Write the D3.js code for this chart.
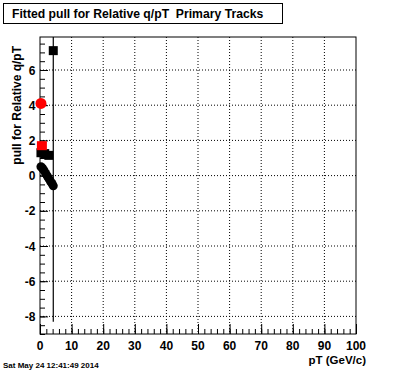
<!DOCTYPE html>
<html>
<head>
<meta charset="utf-8">
<script src="https://cdn.jsdelivr.net/npm/d3@7/dist/d3.min.js"></script>
<style>
  body { margin: 0; background: #fff; }
  text { font-family: "Liberation Sans", Arial, Helvetica, sans-serif; font-weight: bold; }
</style>
</head>
<body>
<div id="chart"></div>
<script>
// black circles (pull per pT bin)
var circPt  = [0.3, 0.8, 1.3, 1.8, 2.3, 2.8, 3.3, 3.8, 4.2];
var circVal = [0.5, 0.42, 0.28, 0.12, -0.02, -0.17, -0.32, -0.45, -0.58];

// black squares, last one has a huge error
var sqPt  = [0.3, 1.5, 2.8, 4.2];
var sqVal = [1.3, 1.25, 1.15, 7.1];
var sqErr = [0, 0, 0, 15.4];

// red markers
var redSqPt = [0.6];
var redSqVal = [1.7];
var redCircPt = [0.3];
var redCircVal = [4.1];

var xTicks = [0, 10, 20, 30, 40, 50, 60, 70, 80, 90, 100];
var yTicks = [-8, -6, -4, -2, 0, 2, 4, 6];

var W = 396, H = 372;
var frame = {left: 40, right: 356, top: 37, bottom: 334};

var svg = d3.select("#chart")
  .append("svg")
    .attr("width", W)
    .attr("height", H);

var x = d3.scaleLinear()
  .domain([0, 100])
  .range([frame.left, frame.right]);

var y = d3.scaleLinear()
  .domain([-9, 7.875])
  .range([frame.bottom, frame.top]);

// dotted grid
svg.append("g")
  .selectAll("line")
  .data(xTicks.slice(1, -1))
  .enter().append("line")
    .attr("x1", function(d) { return x(d); })
    .attr("x2", function(d) { return x(d); })
    .attr("y1", frame.top)
    .attr("y2", frame.bottom)
    .attr("stroke", "#000")
    .attr("stroke-dasharray", "1,2");

svg.append("g")
  .selectAll("line")
  .data(yTicks)
  .enter().append("line")
    .attr("x1", frame.left)
    .attr("x2", frame.right)
    .attr("y1", function(d) { return y(d); })
    .attr("y2", function(d) { return y(d); })
    .attr("stroke", "#000")
    .attr("stroke-dasharray", "1,2");

// minor + major ticks, pointing inward
var xMinor = d3.range(0, 100.01, 2);
svg.append("g")
  .attr("transform", "translate(0," + frame.bottom + ")")
  .call(d3.axisTop(x).tickValues(xMinor).tickSize(5).tickFormat(""))
  .call(function(g) { g.select(".domain").remove(); });
svg.append("g")
  .attr("transform", "translate(0," + frame.bottom + ")")
  .call(d3.axisTop(x).tickValues(xTicks).tickSize(10).tickFormat(""))
  .call(function(g) { g.select(".domain").remove(); });

var yMinor = d3.range(-9, 7.8, 0.5);
svg.append("g")
  .attr("transform", "translate(" + frame.left + ",0)")
  .call(d3.axisRight(y).tickValues(yMinor).tickSize(5).tickFormat(""))
  .call(function(g) { g.select(".domain").remove(); });
svg.append("g")
  .attr("transform", "translate(" + frame.left + ",0)")
  .call(d3.axisRight(y).tickValues(yTicks).tickSize(8).tickFormat(""))
  .call(function(g) { g.select(".domain").remove(); });

svg.selectAll(".tick line").attr("stroke", "#000");

// tick labels
svg.append("g")
  .selectAll("text")
  .data(xTicks)
  .enter().append("text")
    .attr("x", function(d) { return x(d); })
    .attr("y", 350)
    .attr("text-anchor", "middle")
    .style("font-size", "12px")
    .text(function(d) { return d; });

svg.append("g")
  .selectAll("text")
  .data(yTicks)
  .enter().append("text")
    .attr("x", 35.5)
    .attr("y", function(d) { return y(d) + 4.5; })
    .attr("text-anchor", "end")
    .style("font-size", "12px")
    .text(function(d) { return d; });

// frame
svg.append("rect")
  .attr("x", frame.left)
  .attr("y", frame.top)
  .attr("width", frame.right - frame.left)
  .attr("height", frame.bottom - frame.top)
  .attr("fill", "none")
  .attr("stroke", "#000");

// error bars clipped to frame
svg.append("clipPath").attr("id", "clip")
  .append("rect")
  .attr("x", frame.left).attr("y", frame.top)
  .attr("width", frame.right - frame.left)
  .attr("height", frame.bottom - frame.top);

svg.append("g")
  .attr("clip-path", "url(#clip)")
  .selectAll("line")
  .data(d3.range(sqPt.length).filter(function(i) { return sqErr[i] > 0; }))
  .enter().append("line")
    .attr("x1", function(i) { return x(sqPt[i]); })
    .attr("x2", function(i) { return x(sqPt[i]); })
    .attr("y1", function(i) { return y(sqVal[i] - sqErr[i]); })
    .attr("y2", function(i) { return y(sqVal[i] + sqErr[i]); })
    .attr("stroke", "#000")
    .attr("stroke-width", 1.2);

var s = 9;
svg.append("g")
  .selectAll("rect")
  .data(d3.range(sqPt.length))
  .enter().append("rect")
    .attr("x", function(i) { return x(sqPt[i]) - s / 2; })
    .attr("y", function(i) { return y(sqVal[i]) - s / 2; })
    .attr("width", s)
    .attr("height", s)
    .attr("fill", "#000");

svg.append("g")
  .selectAll("circle")
  .data(d3.range(circPt.length))
  .enter().append("circle")
    .attr("cx", function(i) { return x(circPt[i]); })
    .attr("cy", function(i) { return y(circVal[i]); })
    .attr("r", 4.5)
    .attr("fill", "#000");

svg.append("g")
  .selectAll("rect")
  .data(d3.range(redSqPt.length))
  .enter().append("rect")
    .attr("x", function(i) { return x(redSqPt[i]) - s / 2 - 0.5; })
    .attr("y", function(i) { return y(redSqVal[i]) - s / 2; })
    .attr("width", s + 1)
    .attr("height", s)
    .attr("fill", "#ff0000");

svg.append("g")
  .selectAll("circle")
  .data(d3.range(redCircPt.length))
  .enter().append("circle")
    .attr("cx", function(i) { return x(redCircPt[i]); })
    .attr("cy", function(i) { return y(redCircVal[i]); })
    .attr("r", 5.5)
    .attr("fill", "#ff0000");

// axis titles
svg.append("text")
  .attr("x", 366)
  .attr("y", 364)
  .attr("text-anchor", "end")
  .style("font-size", "11.5px")
  .text("pT (GeV/c)");

svg.append("text")
  .attr("transform", "translate(21,46)rotate(-90)")
  .attr("text-anchor", "end")
  .style("font-size", "12px")
  .text("pull for Relative q/pT");

// title box
svg.append("rect")
  .attr("x", 3.5).attr("y", 3.5)
  .attr("width", 279).attr("height", 20)
  .attr("fill", "#fff")
  .attr("stroke", "#000");

svg.append("text")
  .attr("x", 12)
  .attr("y", 18)
  .style("font-size", "12.2px")
  .style("white-space", "pre")
  .text("Fitted pull for Relative q/pT  Primary Tracks");

// date stamp
svg.append("text")
  .attr("x", 3)
  .attr("y", 368)
  .style("font-size", "8px")
  .text("Sat May 24 12:41:49 2014");
</script>
</body>
</html>
